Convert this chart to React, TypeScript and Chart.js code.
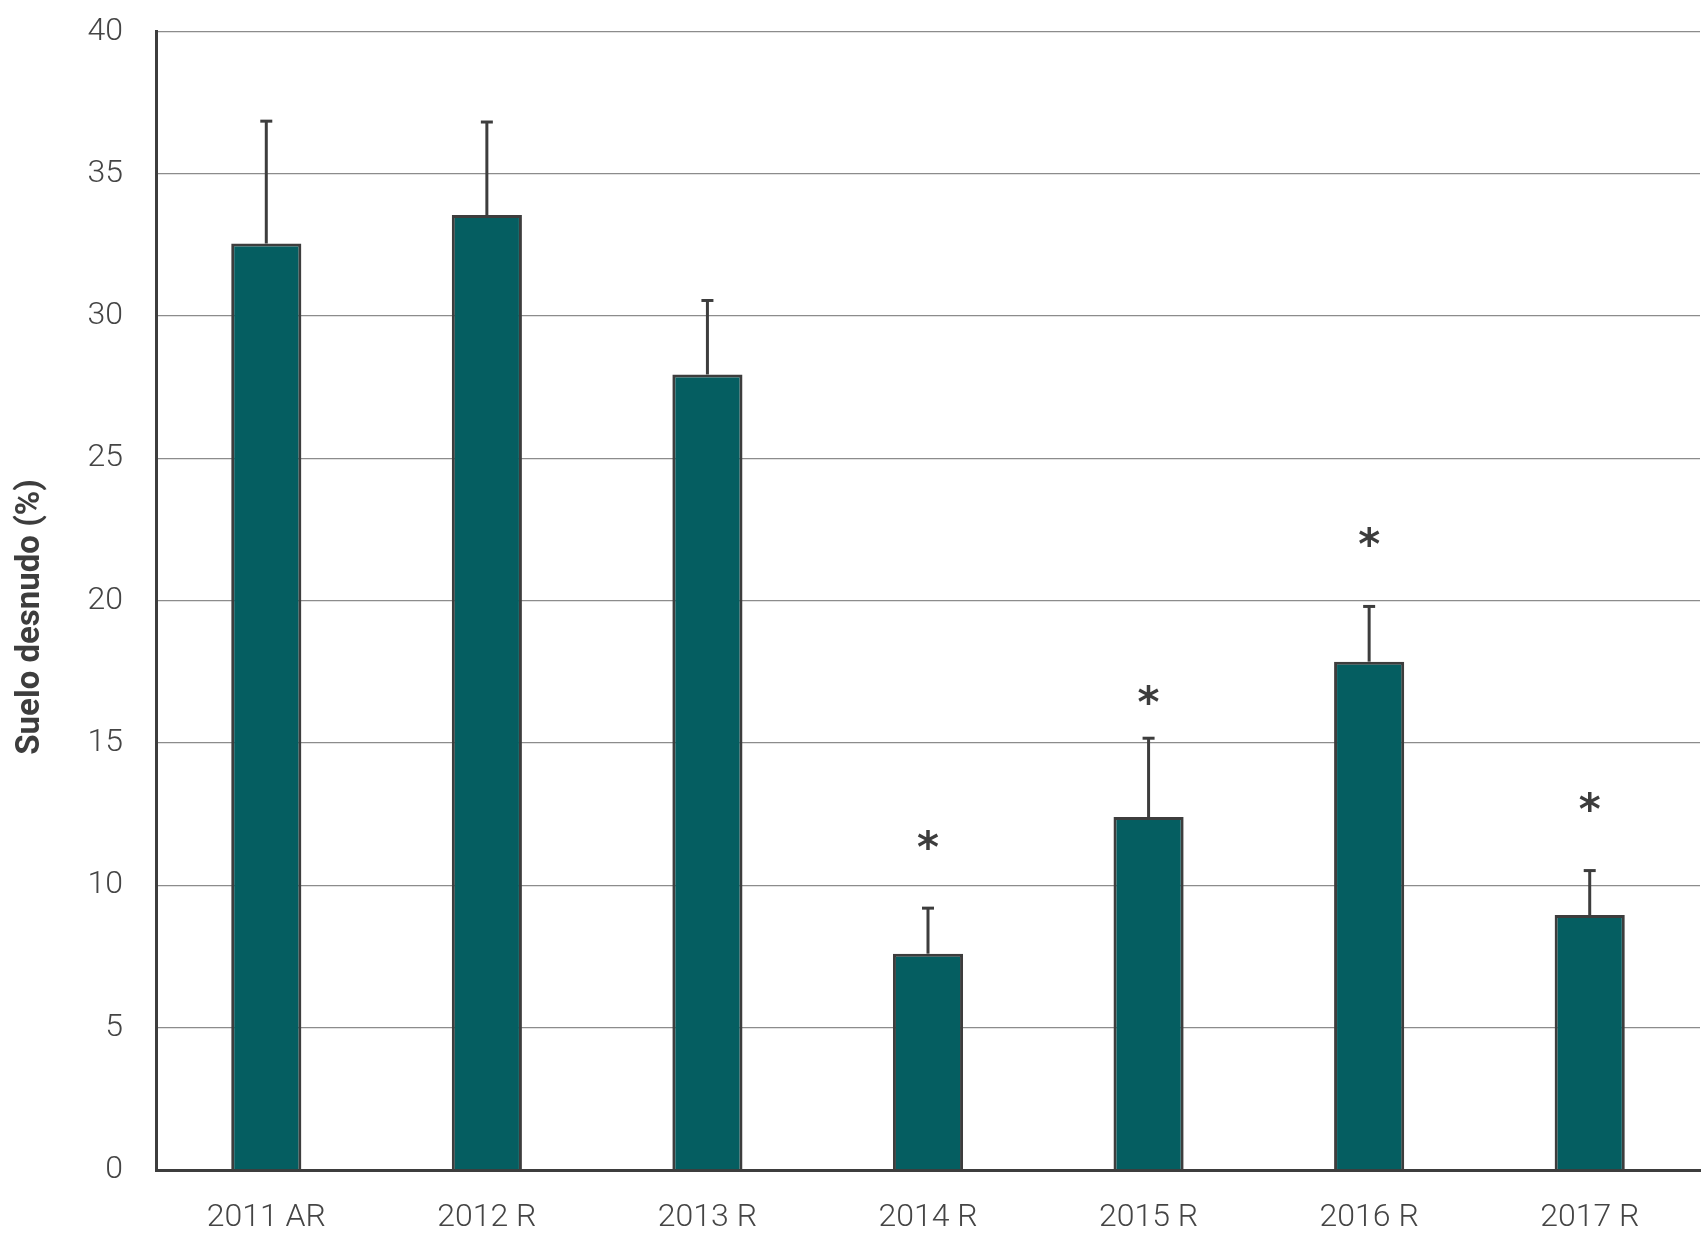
import React, { useEffect, useRef } from "react";
import { Chart, registerables } from "chart.js";

Chart.register(...registerables);

const categories = ["2011 AR", "2012 R", "2013 R", "2014 R", "2015 R", "2016 R", "2017 R"];
const means = [32.55, 33.55, 27.95, 7.6, 12.4, 17.86, 8.96];
const errors = [4.3, 3.27, 2.6, 1.6, 2.77, 1.94, 1.56];
const asteriskValues: (number | null)[] = [null, null, null, 11.6, 16.7, 22.25, 12.92];
const asteriskText = "*";
const yTitle = "Suelo desnudo (%)";
const yMin = 0;
const yMax = 40;
const yStep = 5;

const BAR_FILL = "#055e61";
const DARK = "#3d3d3d";
const GRID = "#8c8c8c";
const TICK = "#454545";

const overlayPlugin = {
  id: "overlay",
  afterDatasetsDraw(chart: any) {
    const ctx = chart.ctx;
    const yScale = chart.scales.y;
    const meta = chart.getDatasetMeta(0);
    ctx.save();
    ctx.strokeStyle = DARK;
    ctx.lineWidth = 3;
    meta.data.forEach((bar: any, i: number) => {
      const x = bar.x;
      const yBar = bar.y;
      const yTop = yScale.getPixelForValue(means[i] + errors[i]);
      ctx.beginPath();
      ctx.moveTo(x, yBar);
      ctx.lineTo(x, yTop);
      ctx.stroke();
      ctx.beginPath();
      ctx.moveTo(x - 6, yTop);
      ctx.lineTo(x + 6, yTop);
      ctx.stroke();
    });
    ctx.fillStyle = DARK;
    ctx.font = "bold 42px 'DejaVu Sans'";
    ctx.textAlign = "center";
    ctx.textBaseline = "alphabetic";
    meta.data.forEach((bar: any, i: number) => {
      const v = asteriskValues[i];
      if (v === null || v === undefined) return;
      const m = ctx.measureText(asteriskText);
      const off = (m.actualBoundingBoxAscent - m.actualBoundingBoxDescent) / 2;
      ctx.fillText(asteriskText, bar.x, yScale.getPixelForValue(v) + off);
    });
    // y-axis title
    ctx.font = "bold 33px Roboto";
    ctx.fillStyle = DARK;
    ctx.textAlign = "center";
    ctx.textBaseline = "middle";
    ctx.translate(31, 617);
    ctx.rotate(-Math.PI / 2);
    ctx.fillText(yTitle, 0, 0);
    ctx.restore();
  },
};

export default function App() {
  const ref = useRef<HTMLCanvasElement | null>(null);
  useEffect(() => {
    if (!ref.current) return;
    const chart = new Chart(ref.current, {
      type: "bar",
      data: {
        labels: categories,
        datasets: [
          {
            data: means,
            backgroundColor: BAR_FILL,
            borderColor: DARK,
            borderWidth: 3,
            barPercentage: 0.318,
            categoryPercentage: 1,
          },
        ],
      },
      options: {
        responsive: false,
        animation: false,
        layout: { padding: { top: 31.5, right: 6, left: 0, bottom: 0 } },
        plugins: { legend: { display: false }, tooltip: { enabled: false } },
        scales: {
          x: {
            grid: { display: true, drawOnChartArea: false, drawTicks: false },
            border: { display: true, color: DARK, width: 3 },
            ticks: {
              color: TICK,
              font: { family: "Roboto", size: 32, weight: "300" as any },
              padding: 29,
            },
            afterFit(scale: any) {
              scale.height = 72;
            },
          },
          y: {
            min: yMin,
            max: yMax,
            grid: {
              color: (c: any) => (c.tick && c.tick.value === 0 ? "rgba(0,0,0,0)" : GRID),
              lineWidth: 1.3,
              drawTicks: false,
            },
            border: { display: true, color: DARK, width: 3 },
            ticks: {
              stepSize: yStep,
              color: TICK,
              font: { family: "Roboto", size: 32, weight: "300" as any },
              padding: 33,
            },
            afterFit(scale: any) {
              scale.width = 156;
              scale.paddingTop = 0;
              scale.paddingBottom = 0;
            },
          },
        },
      },
      plugins: [overlayPlugin],
    });
    return () => chart.destroy();
  }, []);
  return (
    <div style={{ position: "absolute", left: 0, top: 0, width: 1706, height: 1242, background: "#fff" }}>
      <canvas ref={ref} width={1706} height={1242} style={{ display: "block" }} />
    </div>
  );
}
